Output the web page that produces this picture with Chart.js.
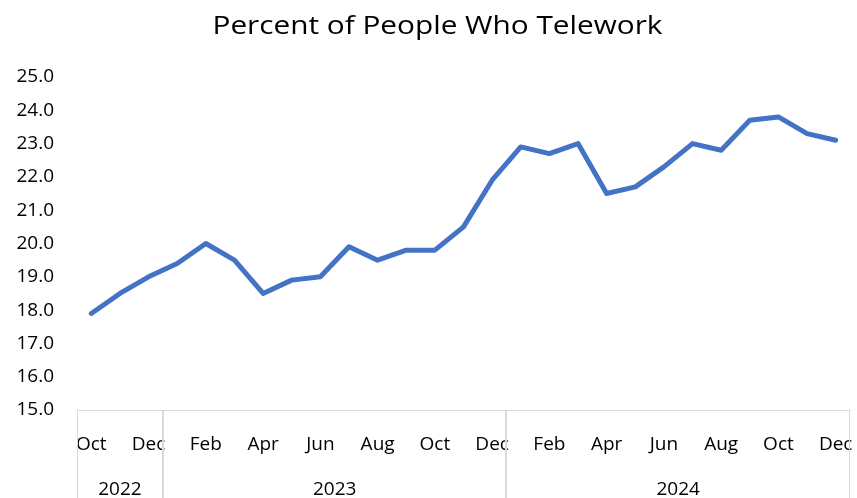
<!DOCTYPE html>
<html>
<head>
<meta charset="utf-8">
<script src="https://cdn.jsdelivr.net/npm/chart.js@4.4.1/dist/chart.umd.min.js"></script>
<style>
  html, body { margin: 0; padding: 0; background: #ffffff; overflow: hidden; }
  canvas { display: block; }
</style>
</head>
<body>
<canvas id="chart" width="857" height="498"></canvas>
<script>
// Monthly share of people teleworking, Oct 2022 – Dec 2024
const months = ["Oct","Nov","Dec","Jan","Feb","Mar","Apr","May","Jun","Jul","Aug","Sep",
                "Oct","Nov","Dec","Jan","Feb","Mar","Apr","May","Jun","Jul","Aug","Sep",
                "Oct","Nov","Dec"];
const years = ["2022","2022","2022","2023","2023","2023","2023","2023","2023","2023","2023","2023",
               "2023","2023","2023","2024","2024","2024","2024","2024","2024","2024","2024","2024",
               "2024","2024","2024"];
const telework = [17.9, 18.5, 19.0, 19.4, 20.0, 19.5, 18.5, 18.9, 19.0, 19.9, 19.5, 19.8,
                  19.8, 20.5, 21.9, 22.9, 22.7, 23.0, 21.5, 21.7, 22.3, 23.0, 22.8, 23.7,
                  23.8, 23.3, 23.1];
const yTicks = [15, 16, 17, 18, 19, 20, 21, 22, 23, 24, 25];
const titleText = "Percent of People Who Telework";

const FONT = "'Open Sans', Lato, sans-serif";
const GRID_GREY = "#d9d9d9";

// Chart title, drawn slightly widened to suit the wide heading style
const wideTitlePlugin = {
  id: "wideTitle",
  afterDraw(chart) {
    const ctx = chart.ctx;
    ctx.save();
    ctx.fillStyle = "#000000";
    ctx.font = "25px " + FONT;
    ctx.textAlign = "center";
    ctx.textBaseline = "alphabetic";
    const cx = chart.width / 2 + 9;
    ctx.translate(cx, 34);
    ctx.scale(1.19, 1);
    ctx.fillText(titleText, 0, 0);
    ctx.restore();
  }
};

// Draws the year row of the two-level category axis and its group dividers
const yearAxisPlugin = {
  id: "yearAxis",
  afterDraw(chart) {
    const x = chart.scales.x;
    const ctx = chart.ctx;
    const top = x.top;
    const bottom = chart.height;
    const half = (x.getPixelForValue(1) - x.getPixelForValue(0)) / 2;

    // group consecutive months by year
    const groups = [];
    years.forEach((y, i) => {
      const g = groups[groups.length - 1];
      if (g && g.label === y) g.end = i;
      else groups.push({ label: y, start: i, end: i });
    });

    ctx.save();
    ctx.strokeStyle = GRID_GREY;
    ctx.lineWidth = 1;
    const edges = new Set();
    groups.forEach(g => {
      edges.add(Math.round(x.getPixelForValue(g.start) - half) + 0.5);
      edges.add(Math.round(x.getPixelForValue(g.end) + half) - 0.5);
    });
    edges.forEach(px => {
      ctx.beginPath();
      ctx.moveTo(px, top);
      ctx.lineTo(px, bottom);
      ctx.stroke();
    });

    ctx.fillStyle = "#000000";
    ctx.font = "19px " + FONT;
    ctx.textAlign = "center";
    ctx.textBaseline = "alphabetic";
    groups.forEach(g => {
      const l = x.getPixelForValue(g.start) - half;
      const r = x.getPixelForValue(g.end) + half;
      ctx.fillText(g.label, (l + r) / 2, top + 85);
    });
    ctx.restore();
  }
};

new Chart(document.getElementById("chart"), {
  type: "line",
  data: {
    labels: months,
    datasets: [{
      label: titleText,
      data: telework,
      borderColor: "#4472C4",
      borderWidth: 5,
      borderCapStyle: "round",
      borderJoinStyle: "round",
      pointRadius: 0,
      tension: 0,
      fill: false
    }]
  },
  options: {
    responsive: false,
    animation: false,
    layout: { padding: { left: 0, right: 7, top: 77, bottom: 0 } },
    plugins: {
      legend: { display: false },
      tooltip: { enabled: false },
      title: { display: false }
    },
    scales: {
      x: {
        type: "category",
        offset: true,
        grid: { display: false },
        border: { display: true, color: GRID_GREY, width: 1 },
        ticks: {
          autoSkip: false,
          maxRotation: 0,
          padding: 15,
          color: "#000000",
          font: { family: FONT, size: 19 },
          callback: (v, i) => (i % 2 === 0 ? months[i] : "")
        },
        afterFit: s => {
          s.height = 88;
          s.paddingLeft = 0;
          s.paddingRight = 0;
        }
      },
      y: {
        min: yTicks[0],
        max: yTicks[yTicks.length - 1],
        grid: { display: false },
        border: { display: false },
        afterBuildTicks: s => { s.ticks = yTicks.map(v => ({ value: v })); },
        ticks: {
          padding: 15,
          color: "#000000",
          font: { family: FONT, size: 19 },
          callback: v => Number(v).toFixed(1)
        },
        afterFit: s => { s.width = 77; }
      }
    }
  },
  plugins: [wideTitlePlugin, yearAxisPlugin]
});
</script>
</body>
</html>
